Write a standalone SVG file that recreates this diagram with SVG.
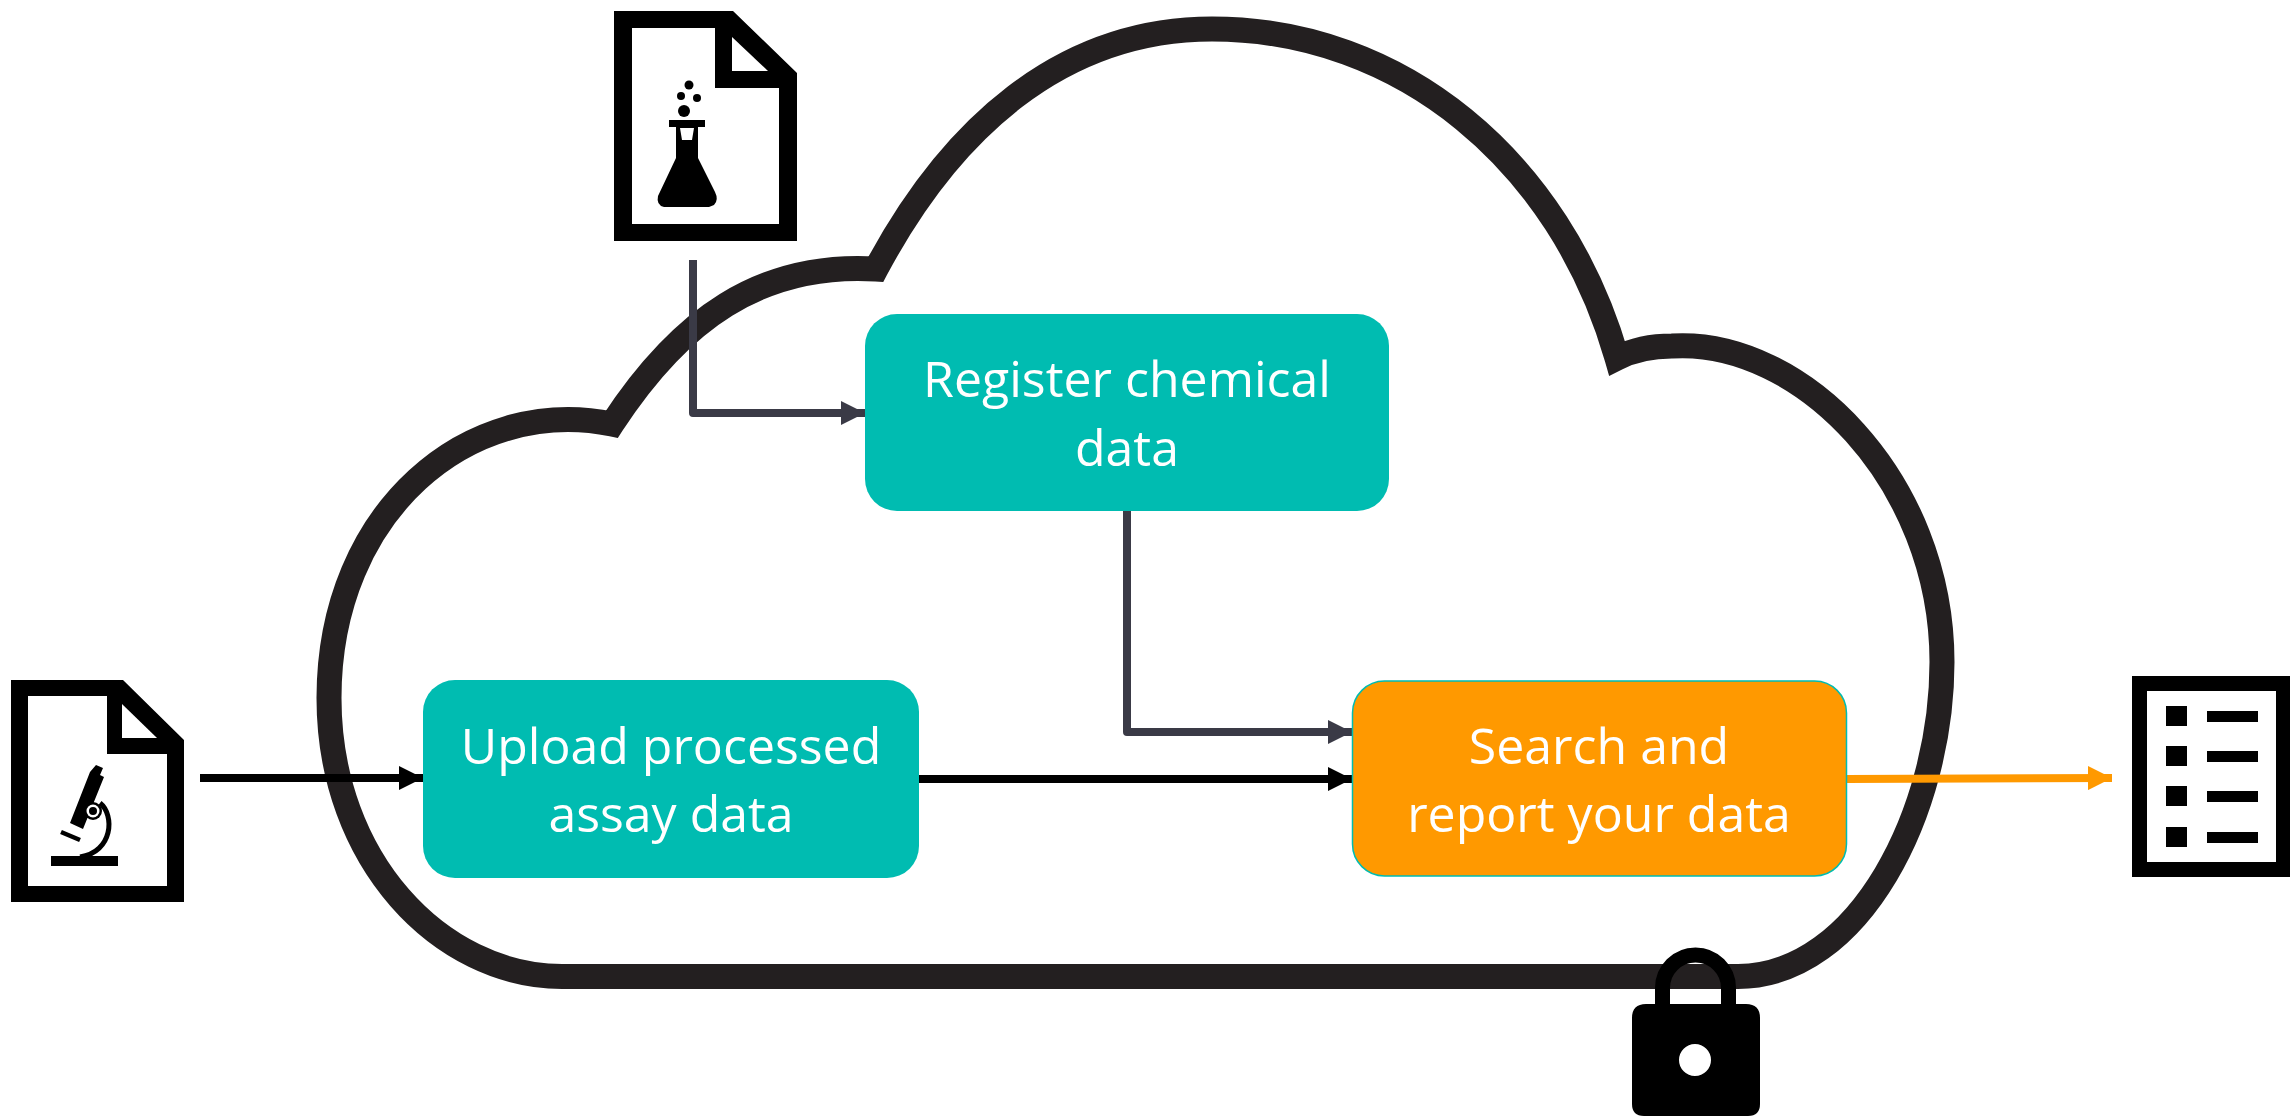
<svg xmlns="http://www.w3.org/2000/svg" width="2290" height="1116" viewBox="0 0 2290 1116">
<style>
.lbl{font-family:"Open Sans","Noto Sans",sans-serif;font-size:50px;fill:#fff;text-anchor:middle}
.conn{fill:none;stroke-width:8;stroke-linejoin:round}
.teal{fill:#00bcb1}
</style>
<defs>
<marker id="hd" markerUnits="userSpaceOnUse" markerWidth="24" markerHeight="24" refX="24" refY="12" orient="auto"><path d="M0 0L24 12L0 24Z" fill="#3a3a46"/></marker>
<marker id="hb" markerUnits="userSpaceOnUse" markerWidth="24" markerHeight="24" refX="24" refY="12" orient="auto"><path d="M0 0L24 12L0 24Z" fill="#000"/></marker>
<marker id="ho" markerUnits="userSpaceOnUse" markerWidth="24" markerHeight="24" refX="24" refY="12" orient="auto"><path d="M0 0L24 12L0 24Z" fill="#ff9900"/></marker>
</defs>
<rect width="2290" height="1116" fill="#fff"/>
<g id="cloud"><path d="M562 976.500H1738C1860 976 1942 810 1942 662C1942 480 1800 338 1672 346C1655 346 1635 349 1617 358C1560 160 1400 29 1212 29C1060 29 950 130 876 269C760 262 680 320 612 424C470 395 329 510 329 698C329 860 440 976 562 976.500Z" fill="none" stroke="#231f20" stroke-width="25" stroke-linejoin="miter"/></g>
<g id="connectors">
<path class="conn" d="M693 260V413H865" stroke="#3a3a46" marker-end="url(#hd)"/>
<path class="conn" d="M1127 511V732H1352" stroke="#3a3a46" marker-end="url(#hd)"/>
<path class="conn" d="M200 778H423" stroke="#000" marker-end="url(#hb)"/>
<path class="conn" d="M919 779H1352" stroke="#000" marker-end="url(#hb)"/>
<path class="conn" d="M1847 779L2112 778" stroke="#ff9900" marker-end="url(#ho)"/>
</g>
<g id="register"><rect class="teal" x="865" y="314" width="524" height="197" rx="32"/><text class="lbl" x="1127" y="397">Register chemical</text><text class="lbl" x="1127" y="466">data</text></g>
<g id="upload"><rect class="teal" x="423" y="680" width="496" height="198" rx="32"/><text class="lbl" x="671" y="764">Upload processed</text><text class="lbl" x="671" y="832">assay data</text></g>
<g id="search"><rect x="1352.500" y="681" width="494" height="195" rx="32" fill="#ff9900" stroke="#00bcb1" stroke-width="1.500"/><text class="lbl" x="1599" y="764">Search and</text><text class="lbl" x="1599" y="832">report your data</text></g>
<g id="doc-flask">
<path fill-rule="evenodd" d="M614 11H733L797 73V241H614ZM632 28V224H779V88H715V28Z"/>
<path d="M732 37L768 71H732Z" fill="#fff"/>
<path fill-rule="evenodd" d="M669 120H705V127L698 127V158L715 192Q719 200 714 205L709 207H664Q656 205 658 196L676 158V127L669 127ZM680 128L682 140H692L694 128Z"/>
<circle cx="689" cy="85" r="4.500"/><circle cx="681" cy="96" r="4"/><circle cx="697" cy="98" r="4"/><circle cx="684" cy="111" r="6"/>
</g>
<g id="doc-microscope">
<path fill-rule="evenodd" d="M11 680H123L184 740V902H11ZM28 696V886H167V754H107V696Z"/>
<path d="M122 704L157 738H122Z" fill="#fff"/>
<rect x="51" y="856" width="67" height="10"/>
<path d="M61 832L80 840" stroke="#000" stroke-width="4.500" fill="none"/>
<path d="M96 765L103 768L100 775L104 777L83 829L70 823L90 772Z"/>
<path d="M100 803C115 815 113 852 80 857" stroke="#000" stroke-width="5" fill="none"/>
<circle cx="93" cy="811" r="9"/><circle cx="93" cy="811" r="6.500" fill="#fff"/><circle cx="93" cy="811" r="4"/>
</g>
<g id="lock">
<path d="M1662.500 1006V988A33 33 0 0 1 1728.500 988V1006" fill="none" stroke="#000" stroke-width="15"/>
<path fill-rule="evenodd" d="M1646 1004H1746Q1760 1004 1760 1018V1104Q1760 1116 1748 1116H1644Q1632 1116 1632 1104V1018Q1632 1004 1646 1004ZM1695 1044A16 16 0 1 0 1695 1076A16 16 0 1 0 1695 1044Z"/>
</g>
<g id="doc-list">
<path fill-rule="evenodd" d="M2132 676H2290V877H2132ZM2147 691V862H2276V691Z"/>
<rect x="2166" y="706" width="21" height="20"/><rect x="2166" y="746" width="21" height="20"/><rect x="2166" y="786" width="21" height="20"/><rect x="2166" y="827" width="21" height="20"/>
<rect x="2207" y="711" width="51" height="11"/><rect x="2207" y="751" width="51" height="11"/><rect x="2207" y="791" width="51" height="11"/><rect x="2207" y="832" width="51" height="11"/>
</g>
</svg>
